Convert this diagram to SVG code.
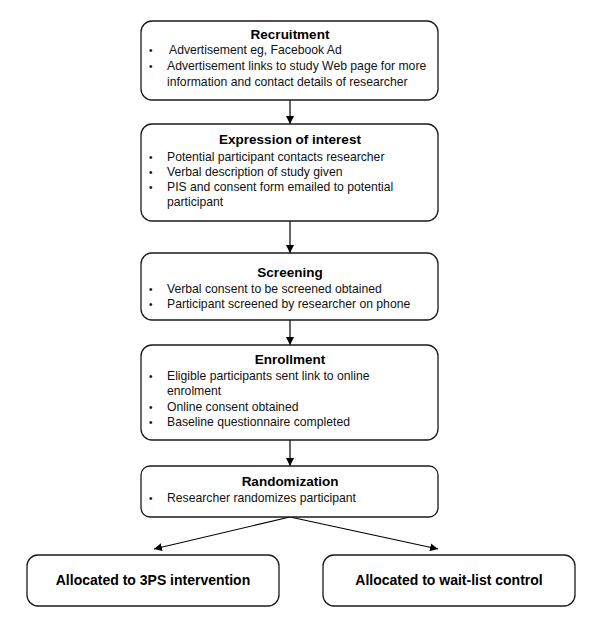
<svg xmlns="http://www.w3.org/2000/svg" width="600" height="640" viewBox="0 0 600 640">
<style>
.box{fill:#fff;stroke:#1a1a1a;stroke-width:1.3}
.t{font-family:"Liberation Sans",Arial,sans-serif;font-size:13.5px;font-weight:bold;fill:#000;text-anchor:middle}
.b{font-family:"Liberation Sans",Arial,sans-serif;font-size:12.2px;fill:#111}
.d{font-family:"Liberation Sans",Arial,sans-serif;font-size:10px;fill:#111}
.big{font-family:"Liberation Sans",Arial,sans-serif;font-size:14px;font-weight:bold;fill:#000;text-anchor:middle}
.c{stroke:#000;stroke-width:1.2;fill:none;marker-end:url(#ah)}
</style>
<defs>
<marker id="ah" viewBox="0 0 10 10" refX="10" refY="5" markerWidth="8" markerHeight="8" markerUnits="userSpaceOnUse" orient="auto">
<path d="M0,0 L10,5 L0,10 z" fill="#000"/>
</marker>
</defs>
<rect width="600" height="640" fill="#fff"/>
<g id="connectors">
<line class="c" x1="290" y1="100" x2="290" y2="124"/>
<line class="c" x1="290" y1="221" x2="290" y2="253"/>
<line class="c" x1="290" y1="320" x2="290" y2="345"/>
<line class="c" x1="290" y1="440" x2="290" y2="466"/>
<line class="c" x1="290" y1="517" x2="154" y2="549"/>
<line class="c" x1="290" y1="517" x2="438" y2="549"/>
</g>
<g id="recruitment">
<rect class="box" x="141" y="21" width="297" height="79" rx="11"/>
<text class="t" x="290" y="39">Recruitment</text>
<text class="d" x="149" y="54">•</text><text class="b" x="169" y="54">Advertisement eg, Facebook Ad</text>
<text class="d" x="149" y="70">•</text><text class="b" x="167" y="70">Advertisement  links to study Web page for more</text>
<text class="b" x="167" y="86">information and contact details of researcher</text>
</g>
<g id="expression">
<rect class="box" x="141" y="124" width="297" height="97" rx="11"/>
<text class="t" x="290" y="144">Expression of interest</text>
<text class="d" x="149" y="161">•</text><text class="b" x="167" y="161">Potential participant contacts researcher</text>
<text class="d" x="149" y="176">•</text><text class="b" x="167" y="176">Verbal description of study given</text>
<text class="d" x="149" y="191">•</text><text class="b" x="167" y="191">PIS and consent form emailed to  potential</text>
<text class="b" x="167" y="206">participant</text>
</g>
<g id="screening">
<rect class="box" x="141" y="253" width="297" height="67" rx="11"/>
<text class="t" x="290" y="277">Screening</text>
<text class="d" x="149" y="293">•</text><text class="b" x="167" y="293">Verbal consent to be screened obtained</text>
<text class="d" x="149" y="308">•</text><text class="b" x="167" y="308">Participant screened by researcher on phone</text>
</g>
<g id="enrollment">
<rect class="box" x="141" y="345" width="297" height="95" rx="11"/>
<text class="t" x="290" y="364">Enrollment</text>
<text class="d" x="149" y="380">•</text><text class="b" x="167" y="380">Eligible participants sent link to online</text>
<text class="b" x="167" y="395">enrolment</text>
<text class="d" x="149" y="411">•</text><text class="b" x="167" y="411">Online consent obtained</text>
<text class="d" x="149" y="426">•</text><text class="b" x="167" y="426">Baseline questionnaire completed</text>
</g>
<g id="randomization">
<rect class="box" x="141" y="466" width="297" height="51" rx="9"/>
<text class="t" x="290" y="486">Randomization</text>
<text class="d" x="149" y="502">•</text><text class="b" x="167" y="502">Researcher randomizes participant</text>
</g>
<g id="intervention">
<rect class="box" x="27" y="555" width="252" height="51" rx="11"/>
<text class="big" x="153" y="585">Allocated to 3PS intervention</text>
</g>
<g id="waitlist">
<rect class="box" x="323" y="555" width="252" height="51" rx="11"/>
<text class="big" x="449" y="585">Allocated to wait-list control</text>
</g>
</svg>
